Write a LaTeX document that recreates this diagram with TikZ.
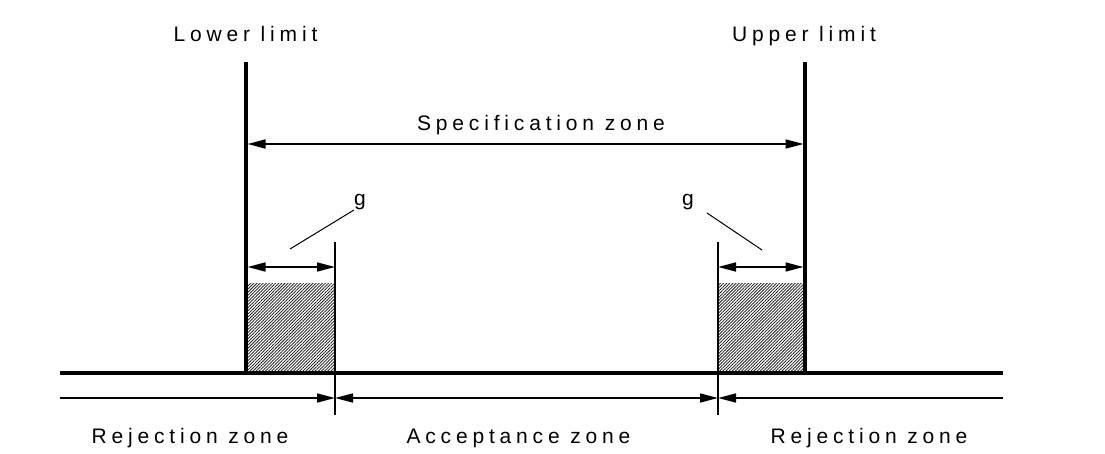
\documentclass[tikz,border=0pt]{standalone}
\usepackage{fontspec}
\setmainfont{Liberation Sans}[LetterSpace=23]
\usetikzlibrary{arrows.meta, patterns.meta}

\begin{document}
\begin{tikzpicture}[x=1pt, y=1pt,
        every node/.style={font=\fontsize{21}{25}\selectfont, inner sep=0pt},
        zonetext/.style={anchor=base},
        limitline/.style={line width=3.2pt},
        thinline/.style={line width=1.6pt},
        leader/.style={line width=1pt},
        dimarrow/.style={line width=1.6pt, {Triangle[length=18pt,width=9pt]}-{Triangle[length=18pt,width=9pt]}},
        endarrow/.style={line width=1.6pt, -{Triangle[length=18pt,width=9pt]}},
        guardband/.style={pattern={Lines[angle=45,distance=2.2pt,line width=0.9pt]}, pattern color=black!80}
    ]
        \useasboundingbox (0,0) rectangle (1105,453);

        % Coordinates
        \coordinate (lowtop) at (246,391);
        \coordinate (lowbot) at (246,80);
        \coordinate (uptop) at (805,391);
        \coordinate (upbot) at (805,80);
        \coordinate (gltop) at (335,211);
        \coordinate (glbot) at (335,38);
        \coordinate (grtop) at (718,211);
        \coordinate (grbot) at (718,38);
        \coordinate (basel) at (60,80);
        \coordinate (baser) at (1003,80);
        \coordinate (specl) at (247.5,309);
        \coordinate (specr) at (803.5,309);
        \coordinate (gll) at (247.5,186);
        \coordinate (glr) at (335,186);
        \coordinate (grl) at (718,186);
        \coordinate (grr) at (803.5,186);
        \coordinate (zonel) at (60,55);
        \coordinate (zonea) at (335,55);
        \coordinate (zoneb) at (718,55);
        \coordinate (zoner) at (1003,55);
        \coordinate (ldl) at (290,204);
        \coordinate (ldr) at (707,240);

        % Guard bands
        \fill[guardband] (lowbot) rectangle (335,170);
        \fill[guardband] (grbot |- lowbot) rectangle (803.5,170);

        % Nodes
        \node[zonetext] (lowtxt) at (245.5,411) {Lower limit};
        \node[zonetext] (uptxt) at (804,411) {Upper limit};
        \node[zonetext] (spectxt) at (541,322) {Specification zone};
        \node (gleft) at (360,251) {g};
        \node (gright) at (688,251) {g};
        \node[zonetext] (rejleft) at (190,10) {Rejection zone};
        \node[zonetext] (acctxt) at (518.5,10) {Acceptance zone};
        \node[zonetext] (rejright) at (869,10) {Rejection zone};

        % Lines
        \draw[limitline] (lowtop) -- (lowbot);
        \draw[limitline] (uptop) -- (upbot);
        \draw[limitline] (basel) -- (baser);
        \draw[thinline] (gltop) -- (glbot);
        \draw[thinline] (grtop) -- (grbot);
        \draw[leader] (ldl) -- (gleft.south west);
        \draw[leader] (ldr) -- (762,203);

        % Connections
        \draw[dimarrow] (specl) -- (specr);
        \draw[dimarrow] (gll) -- (glr);
        \draw[dimarrow] (grl) -- (grr);
        \draw[endarrow] (zonel) -- (zonea);
        \draw[dimarrow] (zonea) -- (zoneb);
        \draw[endarrow] (zoner) -- (zoneb);

    \end{tikzpicture}
\end{document}
